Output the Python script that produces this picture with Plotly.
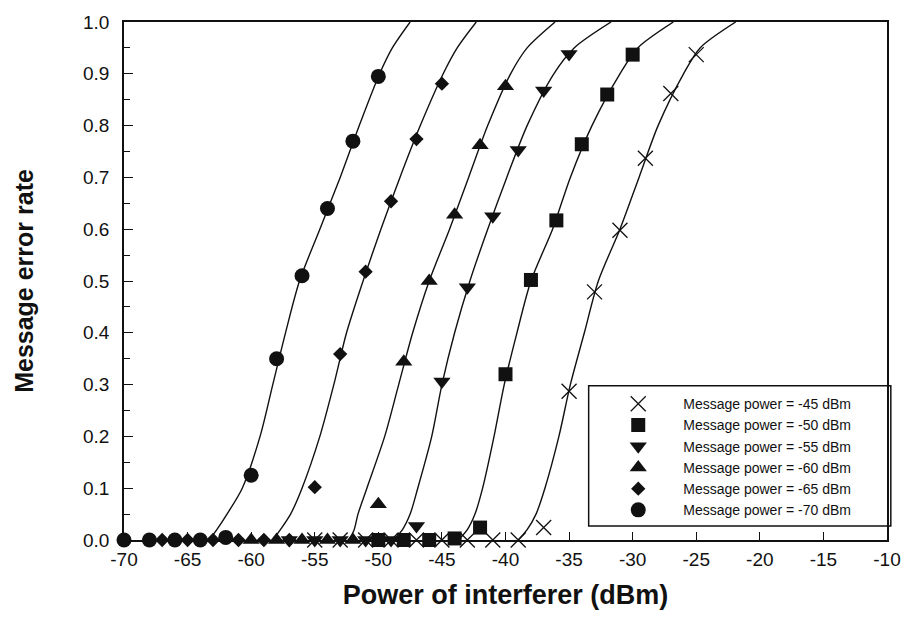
import plotly.graph_objects as go

# Message power of each measured series (dBm), in legend order
series_names = ["Message power = -45 dBm", "Message power = -50 dBm",
                "Message power = -55 dBm", "Message power = -60 dBm",
                "Message power = -65 dBm", "Message power = -70 dBm"]

# Measured message error rate versus interferer power (dBm)
x_m45 = [-55, -53, -51, -49, -47, -45, -43, -41, -39, -37, -35, -33, -31, -29, -27, -25]
y_m45 = [0, 0, 0, 0, 0, 0, 0, 0, 0, 0.024, 0.287, 0.479, 0.598, 0.737, 0.862, 0.937]

x_m50 = [-50, -48, -46, -44, -42, -40, -38, -36, -34, -32, -30]
y_m50 = [0, 0, 0, 0.003, 0.024, 0.320, 0.502, 0.617, 0.764, 0.860, 0.937]

x_m55 = [-57, -55, -53, -51, -49, -47, -45, -43, -41, -39, -37, -35]
y_m55 = [0, 0, 0, 0, 0, 0.027, 0.306, 0.488, 0.625, 0.753, 0.868, 0.938]

x_m60 = [-60, -58, -56, -54, -52, -50, -48, -46, -44, -42, -40]
y_m60 = [0, 0, 0, 0, 0, 0.069, 0.344, 0.500, 0.628, 0.762, 0.876]

x_m65 = [-67, -65, -63, -61, -59, -57, -55, -53, -51, -49, -47, -45]
y_m65 = [0, 0, 0, 0, 0, 0, 0.102, 0.359, 0.518, 0.654, 0.774, 0.881]

x_m70 = [-70, -68, -66, -64, -62, -60, -58, -56, -54, -52, -50]
y_m70 = [0, 0, 0, 0, 0.005, 0.125, 0.350, 0.510, 0.640, 0.770, 0.895]

# Fitted curves: interferer power at which each fit reaches these error rates
fit_levels = [0, 0.02, 0.05, 0.1, 0.2, 0.3, 0.4, 0.5, 0.6, 0.7, 0.8, 0.9, 0.95, 1.0]
fit_m45 = [-39.0, -38.3, -37.6, -36.9, -35.8, -34.9, -33.8, -32.7, -31.0, -29.5, -28.0, -26.0, -24.7, -21.9]
fit_m50 = [-43.7, -43.0, -42.4, -41.8, -40.9, -40.1, -39.1, -38.0, -36.3, -34.9, -33.2, -31.0, -29.6, -26.8]
fit_m55 = [-48.8, -48.1, -47.5, -46.9, -45.8, -45.0, -44.0, -42.8, -41.4, -39.9, -38.3, -36.2, -34.6, -31.7]
fit_m60 = [-52.3, -51.9, -51.6, -50.9, -49.5, -48.4, -47.3, -46.0, -44.4, -42.9, -41.4, -39.6, -38.3, -36.1]
fit_m65 = [-58.3, -57.7, -56.9, -56.0, -54.6, -53.5, -52.5, -51.2, -49.8, -48.3, -46.7, -44.9, -43.8, -42.3]
fit_m70 = [-63.3, -62.7, -61.9, -60.7, -59.3, -58.3, -57.3, -56.2, -54.6, -53.0, -51.5, -49.9, -48.9, -47.5]

# Axis ticks
x_tickvals = [-70, -65, -60, -55, -50, -45, -40, -35, -30, -25, -20, -15, -10]
x_ticktext = ["-70", "-65", "-60", "-55", "-50", "-45", "-40", "-35", "-30", "-25", "-20", "-15", "-10"]
y_tickvals = [0.0, 0.1, 0.2, 0.3, 0.4, 0.5, 0.6, 0.7, 0.8, 0.9, 1.0]
y_ticktext = ["0.0", "0.1", "0.2", "0.3", "0.4", "0.5", "0.6", "0.7", "0.8", "0.9", "1.0"]

FONT = "Liberation Sans, Arial, sans-serif"
INK = "#111111"

points = [(x_m45, y_m45), (x_m50, y_m50), (x_m55, y_m55),
          (x_m60, y_m60), (x_m65, y_m65), (x_m70, y_m70)]
fits = [fit_m45, fit_m50, fit_m55, fit_m60, fit_m65, fit_m70]
symbols = ["x-thin", "square", "triangle-down", "triangle-up", "diamond", "circle"]
sizes = [15, 14, 15, 15, 11, 15]

fig = go.Figure()

# fitted curves behind the markers
for fx in fits:
    fig.add_trace(go.Scatter(
        x=fx, y=fit_levels, mode="lines",
        line=dict(color=INK, width=1.4, shape="spline", smoothing=0.8),
        showlegend=False, hoverinfo="skip"))

for name, (px, py), sym, sz in zip(series_names, points, symbols, sizes):
    fig.add_trace(go.Scatter(
        x=px, y=py, mode="markers", name=name,
        marker=dict(symbol=sym, size=sz, color=INK,
                    line=dict(color=INK, width=1.3 if sym == "x-thin" else 0)),
        cliponaxis=False))

axis_common = dict(
    showline=True, linecolor=INK, mirror=True,
    showgrid=False, zeroline=False,
    ticks="inside", tickcolor=INK, tickwidth=1.3,
    tickfont=dict(family=FONT, size=19, color=INK),
)

fig.update_xaxes(
    range=[-70, -10], tickvals=x_tickvals, ticktext=x_ticktext, ticklen=8,
    linewidth=2, ticklabelstandoff=1,
    title=dict(text="<b>Power of interferer (dBm)</b>",
               font=dict(family=FONT, size=27, color=INK), standoff=16),
    **axis_common)

fig.update_yaxes(
    range=[0, 1], tickvals=y_tickvals, ticktext=y_ticktext, ticklen=9,
    linewidth=1.6, ticklabelstandoff=9,
    minor=dict(ticks="inside", ticklen=6, tickcolor=INK, tickwidth=1.2, dtick=0.05,
               tick0=0, showgrid=False),
    title=dict(text="<b>Message error rate</b>",
               font=dict(family=FONT, size=25, color=INK), standoff=42),
    **axis_common)

# legend frame
fig.add_shape(type="rect", xref="paper", yref="paper",
              x0=0.609, x1=1.005, y0=0.027, y1=0.298,
              line=dict(color=INK, width=1.5), fillcolor="white", layer="below")

fig.update_layout(
    width=913, height=625,
    margin=dict(l=124, r=21, t=17, b=85),
    paper_bgcolor="white", plot_bgcolor="white",
    font=dict(family=FONT, color=INK),
    legend=dict(x=0.615, y=0.293, xanchor="left", yanchor="top",
                bgcolor="rgba(0,0,0,0)", borderwidth=0,
                itemwidth=80,
                font=dict(family=FONT, size=14, color=INK)),
)

fig.write_html("out.html")
